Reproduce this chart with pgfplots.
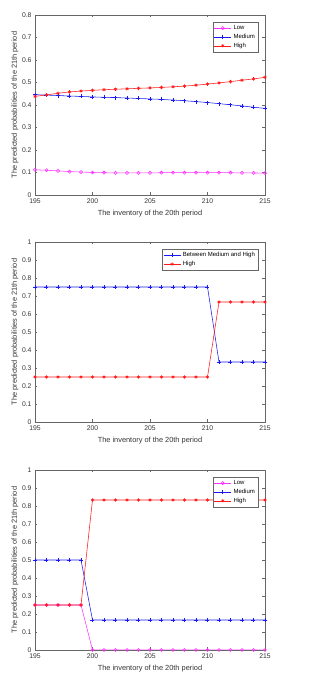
\documentclass[border=0pt]{standalone}
\usepackage{pgfplots}
\pgfplotsset{compat=1.18}
\usepackage{fontspec}
\setmainfont{Liberation Sans}
\definecolor{mlblue}{rgb}{0.1,0.1,0.95}
\definecolor{mlred}{rgb}{1,0.1,0.1}
\definecolor{mlmag}{rgb}{1,0.2,1}
\pgfplotsset{
  myaxis/.style={
    scale only axis, width=230pt, height=180pt,
    xmin=195, xmax=215, ymin=0,
    xtick={195,200,205,210,215},
    anchor=north west,
    axis line style={black!60},
    tick style={black!60, major tick length=2.5pt},
    tick label style={font=\fontsize{6.8}{7}\selectfont, text=black!80},
    /pgf/number format/assume math mode=true,
    label style={font=\fontsize{7.4}{8}\selectfont, text=black!80},
    xlabel={The inventory of the 20th period},
    ylabel={The predicted probabilities of the 21th period},
    xlabel style={at={(axis description cs:0.5,-0.105)}, anchor=center},
    ylabel style={at={(axis description cs:-0.087,0.5)}, anchor=center},
    legend style={at={(axis description cs:0.97,0.96)}, anchor=north east,
      font=\fontsize{6}{7}\selectfont, draw=black!60, inner sep=1pt,
      row sep=-1pt, cells={anchor=west}},
    legend cell align=left,
    every axis plot/.append style={line width=0.55pt},
  },
  lowst/.style={mlmag, mark=o, mark size=1.6pt},
  medst/.style={mlblue, mark=+, mark size=2pt},
  highst/.style={mlred, mark=asterisk, mark size=1.7pt},
}
\begin{document}
\begin{tikzpicture}
\path[use as bounding box] (0,0) rectangle (314pt,689pt);
% Plot 1
\begin{axis}[myaxis, at={(35pt,674pt)}, ymax=0.8,
  ytick={0,0.1,0.2,0.3,0.4,0.5,0.6,0.7,0.8},
  yticklabels={0,0.1,0.2,0.3,0.4,0.5,0.6,0.7,0.8}]
\addplot[lowst] coordinates {(195,0.112)(196,0.110)(197,0.107)(198,0.104)(199,0.102)(200,0.100)(201,0.099)(202,0.098)(203,0.098)(204,0.098)(205,0.098)(206,0.099)(207,0.099)(208,0.099)(209,0.099)(210,0.099)(211,0.099)(212,0.099)(213,0.098)(214,0.098)(215,0.097)};
\addplot[medst] coordinates {(195,0.446)(196,0.444)(197,0.442)(198,0.440)(199,0.438)(200,0.436)(201,0.434)(202,0.433)(203,0.431)(204,0.429)(205,0.427)(206,0.425)(207,0.422)(208,0.419)(209,0.415)(210,0.411)(211,0.406)(212,0.401)(213,0.396)(214,0.390)(215,0.385)};
\addplot[highst] coordinates {(195,0.438)(196,0.445)(197,0.452)(198,0.458)(199,0.462)(200,0.465)(201,0.468)(202,0.470)(203,0.472)(204,0.474)(205,0.476)(206,0.478)(207,0.481)(208,0.484)(209,0.488)(210,0.493)(211,0.498)(212,0.504)(213,0.510)(214,0.516)(215,0.523)};
\legend{Low,Medium,High}
\end{axis}
% Plot 2
\begin{axis}[myaxis, at={(35pt,447pt)}, ymax=1,
  ytick={0,0.1,0.2,0.3,0.4,0.5,0.6,0.7,0.8,0.9,1},
  yticklabels={0,0.1,0.2,0.3,0.4,0.5,0.6,0.7,0.8,0.9,1}]
\addplot[medst] coordinates {(195,0.75)(196,0.75)(197,0.75)(198,0.75)(199,0.75)(200,0.75)(201,0.75)(202,0.75)(203,0.75)(204,0.75)(205,0.75)(206,0.75)(207,0.75)(208,0.75)(209,0.75)(210,0.75)(211,0.3333)(212,0.3333)(213,0.3333)(214,0.3333)(215,0.3333)};
\addplot[highst] coordinates {(195,0.25)(196,0.25)(197,0.25)(198,0.25)(199,0.25)(200,0.25)(201,0.25)(202,0.25)(203,0.25)(204,0.25)(205,0.25)(206,0.25)(207,0.25)(208,0.25)(209,0.25)(210,0.25)(211,0.6667)(212,0.6667)(213,0.6667)(214,0.6667)(215,0.6667)};
\legend{Between Medium and High,High}
\end{axis}
% Plot 3
\begin{axis}[myaxis, at={(35pt,219pt)}, ymax=1,
  ytick={0,0.1,0.2,0.3,0.4,0.5,0.6,0.7,0.8,0.9,1},
  yticklabels={0,0.1,0.2,0.3,0.4,0.5,0.6,0.7,0.8,0.9,1}]
\addplot[lowst] coordinates {(195,0.25)(196,0.25)(197,0.25)(198,0.25)(199,0.25)(200,0)(201,0)(202,0)(203,0)(204,0)(205,0)(206,0)(207,0)(208,0)(209,0)(210,0)(211,0)(212,0)(213,0)(214,0)(215,0)};
\addplot[medst] coordinates {(195,0.5)(196,0.5)(197,0.5)(198,0.5)(199,0.5)(200,0.1667)(201,0.1667)(202,0.1667)(203,0.1667)(204,0.1667)(205,0.1667)(206,0.1667)(207,0.1667)(208,0.1667)(209,0.1667)(210,0.1667)(211,0.1667)(212,0.1667)(213,0.1667)(214,0.1667)(215,0.1667)};
\addplot[highst] coordinates {(195,0.25)(196,0.25)(197,0.25)(198,0.25)(199,0.25)(200,0.8333)(201,0.8333)(202,0.8333)(203,0.8333)(204,0.8333)(205,0.8333)(206,0.8333)(207,0.8333)(208,0.8333)(209,0.8333)(210,0.8333)(211,0.8333)(212,0.8333)(213,0.8333)(214,0.8333)(215,0.8333)};
\legend{Low,Medium,High}
\end{axis}
\end{tikzpicture}
\end{document}
